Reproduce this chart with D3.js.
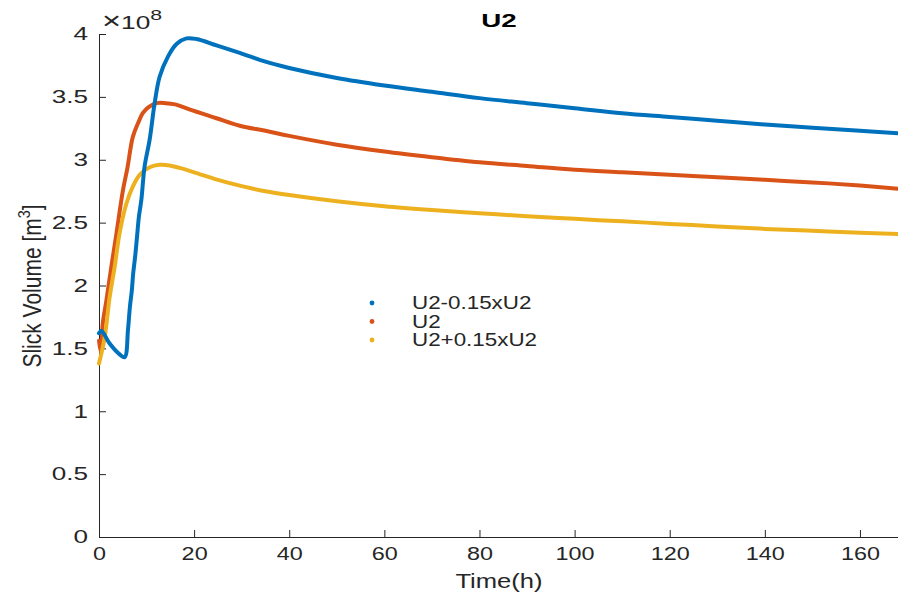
<!DOCTYPE html>
<html>
<head>
<meta charset="utf-8">
<script src="https://cdn.jsdelivr.net/npm/d3@7"></script>
<style>
  body { margin: 0; background: #fff; }
  svg { display: block; font-family: "Liberation Sans", Arial, Helvetica, sans-serif; }
</style>
</head>
<body>
<div id="chart"></div>
<script>

// data (volume in units of 1e8 m^3)
const tBlue = [0, 0.5, 2.2, 4.4, 5.4, 6.1, 6.5, 6.9, 7.2, 7.6, 8.0, 8.4, 8.9, 9.6, 10.65, 11.7, 12.75, 14.5, 16.3, 18.4, 20.5, 24.7, 29.6, 35, 40, 50, 60, 70, 80, 90, 100, 110, 120, 130, 140, 150, 160, 168];
const vBlue = [1.62, 1.64, 1.54, 1.45, 1.43, 1.65, 1.83, 1.96, 2.10, 2.23, 2.39, 2.55, 2.68, 2.95, 3.16, 3.45, 3.66, 3.82, 3.92, 3.965, 3.96, 3.91, 3.85, 3.78, 3.73, 3.65, 3.59, 3.54, 3.49, 3.45, 3.41, 3.37, 3.34, 3.31, 3.28, 3.255, 3.23, 3.21];

const tOrange = [0, 0.4, 0.8, 1.55, 2.6, 3.65, 5.05, 6.0, 7.1, 8.2, 9.2, 10.5, 12.1, 14, 16, 19, 24.7, 29.6, 35, 40, 50, 60, 70, 80, 90, 100, 110, 120, 130, 140, 150, 160, 168];
const vOrange = [1.56, 1.47, 1.70, 1.88, 2.15, 2.41, 2.76, 2.94, 3.18, 3.29, 3.37, 3.42, 3.45, 3.45, 3.44, 3.40, 3.33, 3.27, 3.23, 3.19, 3.12, 3.065, 3.02, 2.98, 2.95, 2.92, 2.90, 2.88, 2.86, 2.84, 2.82, 2.795, 2.77];

const tYellow = [0, 1.2, 2.25, 3.3, 4.35, 5.75, 7.15, 8.55, 10.65, 12.75, 14.85, 16.95, 20, 25, 30, 35, 40, 50, 60, 70, 80, 90, 100, 110, 120, 130, 140, 150, 160, 168];
const vYellow = [1.38, 1.59, 1.91, 2.15, 2.42, 2.65, 2.79, 2.88, 2.94, 2.96, 2.955, 2.935, 2.90, 2.84, 2.79, 2.75, 2.72, 2.67, 2.63, 2.60, 2.575, 2.55, 2.53, 2.51, 2.49, 2.47, 2.45, 2.435, 2.42, 2.41];

const seriesNames = ["U2-0.15xU2", "U2", "U2+0.15xU2"];
const seriesColors = ["#0072BD", "#D95319", "#EDB120"];
const xTicks = [0, 20, 40, 60, 80, 100, 120, 140, 160];
const yTicks = [0, 0.5, 1, 1.5, 2, 2.5, 3, 3.5, 4];

const w = 898;
const h = 598;
const padL = 99, padR = 898, padT = 34, padB = 537;
const axisColor = "#262626";

const svg = d3.select("#chart")
    .append("svg")
    .attr("width", w)
    .attr("height", h);

const xScale = d3.scaleLinear()
    .domain([0, 168])
    .range([padL, padR]);

const yScale = d3.scaleLinear()
    .domain([0, 4])
    .range([padB, padT]);

// axes (ticks pointing inward like matlab)
const xAxis = d3.axisBottom(xScale)
    .tickValues(xTicks)
    .tickFormat(d3.format("d"))
    .tickSizeInner(-7)
    .tickSizeOuter(0)
    .tickPadding(10);

const yAxis = d3.axisLeft(yScale)
    .tickValues(yTicks)
    .tickFormat(d => d)
    .tickSizeInner(-7)
    .tickSizeOuter(0)
    .tickPadding(11);

const gx = svg.append("g")
    .attr("transform", "translate(0," + padB + ")")
    .call(xAxis);

const gy = svg.append("g")
    .attr("transform", "translate(" + padL + ",0)")
    .call(yAxis);

[gx, gy].forEach(g => {
    g.select(".domain").attr("stroke", axisColor).attr("stroke-width", 1);
    g.selectAll(".tick line").attr("stroke", axisColor).attr("stroke-width", 1);
    g.selectAll(".tick text")
        .attr("fill", axisColor)
        .style("font-size", "18px")
        .style("font-family", "'Liberation Sans', Arial, sans-serif");
});

// the picture is stretched sideways a bit, so widen the labels
gx.selectAll(".tick text").attr("transform", "scale(1.3,1)");
gy.selectAll(".tick text")
    .attr("x", 0)
    .attr("transform", "translate(-11,0) scale(1.45,1)");

// lines
const line = d3.line()
    .x(d => xScale(d[0]))
    .y(d => yScale(d[1]))
    .curve(d3.curveCatmullRom.alpha(0.5));

const series = [
    { name: seriesNames[0], color: seriesColors[0], pts: d3.zip(tBlue, vBlue) },
    { name: seriesNames[1], color: seriesColors[1], pts: d3.zip(tOrange, vOrange) },
    { name: seriesNames[2], color: seriesColors[2], pts: d3.zip(tYellow, vYellow) }
];

const drawOrder = [1, 2, 0];
svg.append("g")
    .selectAll("path")
    .data(drawOrder.map(i => series[i]))
    .enter()
    .append("path")
    .attr("d", d => line(d.pts))
    .attr("fill", "none")
    .attr("stroke", d => d.color)
    .attr("stroke-width", 4)
    .attr("stroke-linejoin", "round")
    .attr("stroke-linecap", "round");

// legend
const legend = svg.selectAll(".legend")
    .data(series)
    .enter().append("g")
    .attr("class", "legend")
    .attr("transform", (d, i) => "translate(372," + (303 + i * 18.5) + ")");

legend.append("circle")
    .attr("r", 2.4)
    .attr("fill", d => d.color);

legend.append("text")
    .attr("transform", "translate(40,6) scale(1.28,1)")
    .attr("fill", axisColor)
    .style("font-size", "17.5px")
    .text(d => d.name);

// title
svg.append("text")
    .attr("transform", "translate(499,27) scale(1.5,1)")
    .attr("text-anchor", "middle")
    .attr("fill", "#000")
    .style("font-size", "18.5px")
    .style("font-weight", "bold")
    .text("U2");

// exponent label
const expo = svg.append("text")
    .attr("transform", "translate(102,29) scale(1.42,1)")
    .attr("fill", axisColor)
    .style("font-size", "18.5px");
expo.append("tspan")
    .style("font-size", "23px")
    .style("font-weight", "300")
    .text("\u00d7");
expo.append("tspan").text("10");
expo.append("tspan")
    .attr("dy", -9)
    .style("font-size", "15px")
    .text("8");

// axis titles
svg.append("text")
    .attr("transform", "translate(499,588) scale(1.28,1)")
    .attr("text-anchor", "middle")
    .attr("fill", axisColor)
    .style("font-size", "20px")
    .text("Time(h)");

const ylab = svg.append("text")
    .attr("transform", "translate(41,286) rotate(-90) scale(1,1.2)")
    .attr("text-anchor", "middle")
    .attr("fill", axisColor)
    .style("font-size", "21px");
ylab.append("tspan").text("Slick Volume [m");
ylab.append("tspan").attr("dy", -9).style("font-size", "14.5px").text("3");
ylab.append("tspan").attr("dy", 9).text("]");

</script>
</body>
</html>
